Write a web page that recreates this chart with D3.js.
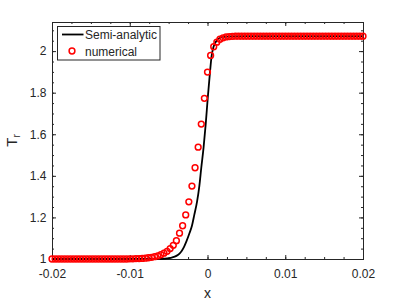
<!DOCTYPE html>
<html>
<head>
<meta charset="utf-8">
<script src="https://cdn.jsdelivr.net/npm/d3@7"></script>
<style>
  body { margin: 0; background: #fff; }
  text { font-family: "Liberation Sans", Arial, sans-serif; fill: #262626; }
</style>
</head>
<body>
<svg id="chart"></svg>
<script>
// semi-analytic curve
var lineX = [-0.02, -0.007, -0.006, -0.0052, -0.0046, -0.004, -0.0036, -0.0033, -0.003, -0.0027,
  -0.0023, -0.002, -0.0017, -0.00135, -0.00105, -0.0008, -0.0005, -0.00023, 0.00003, 0.00032,
  0.00054, 0.00075, 0.00096, 0.0012, 0.0016, 0.0022, 0.003, 0.005, 0.02];
var lineT = [1.000, 1.000, 1.001, 1.003, 1.007, 1.015, 1.026, 1.040, 1.060, 1.086,
  1.126, 1.160, 1.212, 1.275, 1.351, 1.439, 1.538, 1.649, 1.773, 1.899,
  1.979, 2.017, 2.037, 2.051, 2.064, 2.069, 2.071, 2.072, 2.072];

// numerical points, evenly spaced grid from -0.02 to 0.02 (101 points)
var numStart = -0.02, numStep = 0.0004;
var numT = [
  1, 1, 1, 1, 1, 1, 1, 1, 1, 1,
  1, 1, 1, 1, 1, 1, 1, 1, 1, 1,
  1, 1, 1, 1, 1, 1.001, 1.001, 1.002, 1.002, 1.003,
  1.004, 1.006, 1.008, 1.011, 1.015, 1.021, 1.028, 1.037, 1.050, 1.066,
  1.088, 1.124, 1.160, 1.212, 1.275, 1.351, 1.439, 1.538, 1.649, 1.773,
  1.899, 1.979, 2.021, 2.043, 2.057, 2.064, 2.068, 2.070, 2.071, 2.072,
  2.072, 2.072, 2.072, 2.072, 2.072, 2.072, 2.072, 2.072, 2.072, 2.072,
  2.072, 2.072, 2.072, 2.072, 2.072, 2.072, 2.072, 2.072, 2.072, 2.072,
  2.072, 2.072, 2.072, 2.072, 2.072, 2.072, 2.072, 2.072, 2.072, 2.072,
  2.072, 2.072, 2.072, 2.072, 2.072, 2.072, 2.072, 2.072, 2.072, 2.072,
  2.072];

var xTicks = [-0.02, -0.01, 0, 0.01, 0.02];
var xTickLabels = ["-0.02", "-0.01", "0", "0.01", "0.02"];
var yTicks = [1, 1.2, 1.4, 1.6, 1.8, 2];
var yTickLabels = ["1", "1.2", "1.4", "1.6", "1.8", "2"];
var legendNames = ["Semi-analytic", "numerical"];

var screen = { width: 402, height: 301 };
var margins = { top: 22, bottom: 42, left: 52, right: 39 };

var drawChart = function(idName, screen, margins)
{
  var graphWidth = screen.width - margins.left - margins.right;
  var graphHeight = screen.height - margins.top - margins.bottom;
  var axisColor = "#262626";
  var markerR = 2.9, markerW = 1.5;

  var svg = d3.select(idName)
    .attr("width", screen.width)
    .attr("height", screen.height);

  var x = d3.scaleLinear().domain([-0.02, 0.02]).range([0, graphWidth]);
  var y = d3.scaleLinear().domain([1, 2.14]).range([graphHeight, 0]);

  var g = svg.append("g")
    .attr("transform", "translate(" + margins.left + "," + margins.top + ")");

  var xMinor = d3.range(-0.02, 0.02001, 0.0025);
  var yMinor = d3.range(1, 2.1401, 0.05);

  // minor ticks, all four sides
  g.append("g").attr("transform", "translate(0," + graphHeight + ")")
    .call(d3.axisBottom(x).tickValues(xMinor).tickSize(-2).tickFormat(""));
  g.append("g")
    .call(d3.axisTop(x).tickValues(xMinor).tickSize(-2).tickFormat(""));
  g.append("g")
    .call(d3.axisLeft(y).tickValues(yMinor).tickSize(-2).tickFormat(""));
  g.append("g").attr("transform", "translate(" + graphWidth + ",0)")
    .call(d3.axisRight(y).tickValues(yMinor).tickSize(-2).tickFormat(""));

  // major ticks + labels
  g.append("g").attr("transform", "translate(0," + graphHeight + ")")
    .call(d3.axisBottom(x).tickValues(xTicks).tickSize(-4).tickPadding(10)
      .tickFormat(function(d, i) { return xTickLabels[i]; }));
  g.append("g")
    .call(d3.axisTop(x).tickValues(xTicks).tickSize(-4).tickFormat(""));
  g.append("g")
    .call(d3.axisLeft(y).tickValues(yTicks).tickSize(-4).tickPadding(5.5)
      .tickFormat(function(d, i) { return yTickLabels[i]; }));
  g.append("g").attr("transform", "translate(" + graphWidth + ",0)")
    .call(d3.axisRight(y).tickValues(yTicks).tickSize(-4).tickFormat(""));

  g.selectAll(".domain").attr("stroke", axisColor);
  g.selectAll(".tick line").attr("stroke", axisColor);
  g.selectAll(".tick text").attr("font-size", 12).attr("fill", axisColor)
    .attr("font-family", "Liberation Sans, Arial, sans-serif");

  // axis titles
  g.append("text")
    .attr("x", graphWidth / 2).attr("y", graphHeight + 38.5)
    .attr("text-anchor", "middle").attr("font-size", 14)
    .text("x");

  var yl = g.append("text")
    .attr("transform", "translate(" + (-35) + "," + (graphHeight / 2) + ") rotate(-90)")
    .attr("text-anchor", "middle").attr("font-size", 15);
  yl.append("tspan").text("T");
  yl.append("tspan").attr("font-size", 10).attr("dy", 3).text("r");

  // semi-analytic line
  var lineData = lineX.map(function(d, i) { return { x: d, t: lineT[i] }; });
  var line = d3.line()
    .x(function(d) { return x(d.x); })
    .y(function(d) { return y(d.t); })
    .curve(d3.curveMonotoneX);

  g.append("path")
    .datum(lineData)
    .attr("fill", "none")
    .attr("stroke", "#000")
    .attr("stroke-width", 1.8)
    .attr("d", line);

  // numerical markers
  var numData = numT.map(function(d, i) { return { x: numStart + i * numStep, t: d }; });
  g.append("g")
    .selectAll("circle")
    .data(numData)
    .join("circle")
      .attr("cx", function(d) { return x(d.x); })
      .attr("cy", function(d) { return y(d.t); })
      .attr("r", markerR)
      .attr("fill", "none")
      .attr("stroke", "#ff0000")
      .attr("stroke-width", markerW);

  // legend
  var leg = svg.append("g").attr("transform", "translate(57.5,26.5)");
  leg.append("rect")
    .attr("width", 102.5).attr("height", 33.5)
    .attr("fill", "#fff").attr("stroke", axisColor).attr("stroke-width", 1);
  leg.append("line")
    .attr("x1", 4.5).attr("x2", 26).attr("y1", 8).attr("y2", 8)
    .attr("stroke", "#000").attr("stroke-width", 1.8);
  leg.append("circle")
    .attr("cx", 14.5).attr("cy", 24.5).attr("r", markerR)
    .attr("fill", "none").attr("stroke", "#ff0000").attr("stroke-width", markerW);
  leg.selectAll("text.leg")
    .data(legendNames)
    .join("text")
      .attr("class", "leg")
      .attr("x", 27.5)
      .attr("y", function(d, i) { return 12.5 + i * 16.5; })
      .attr("font-size", 12)
      .attr("fill", "#000")
      .text(function(d) { return d; });
}

drawChart("#chart", screen, margins);
</script>
</body>
</html>
